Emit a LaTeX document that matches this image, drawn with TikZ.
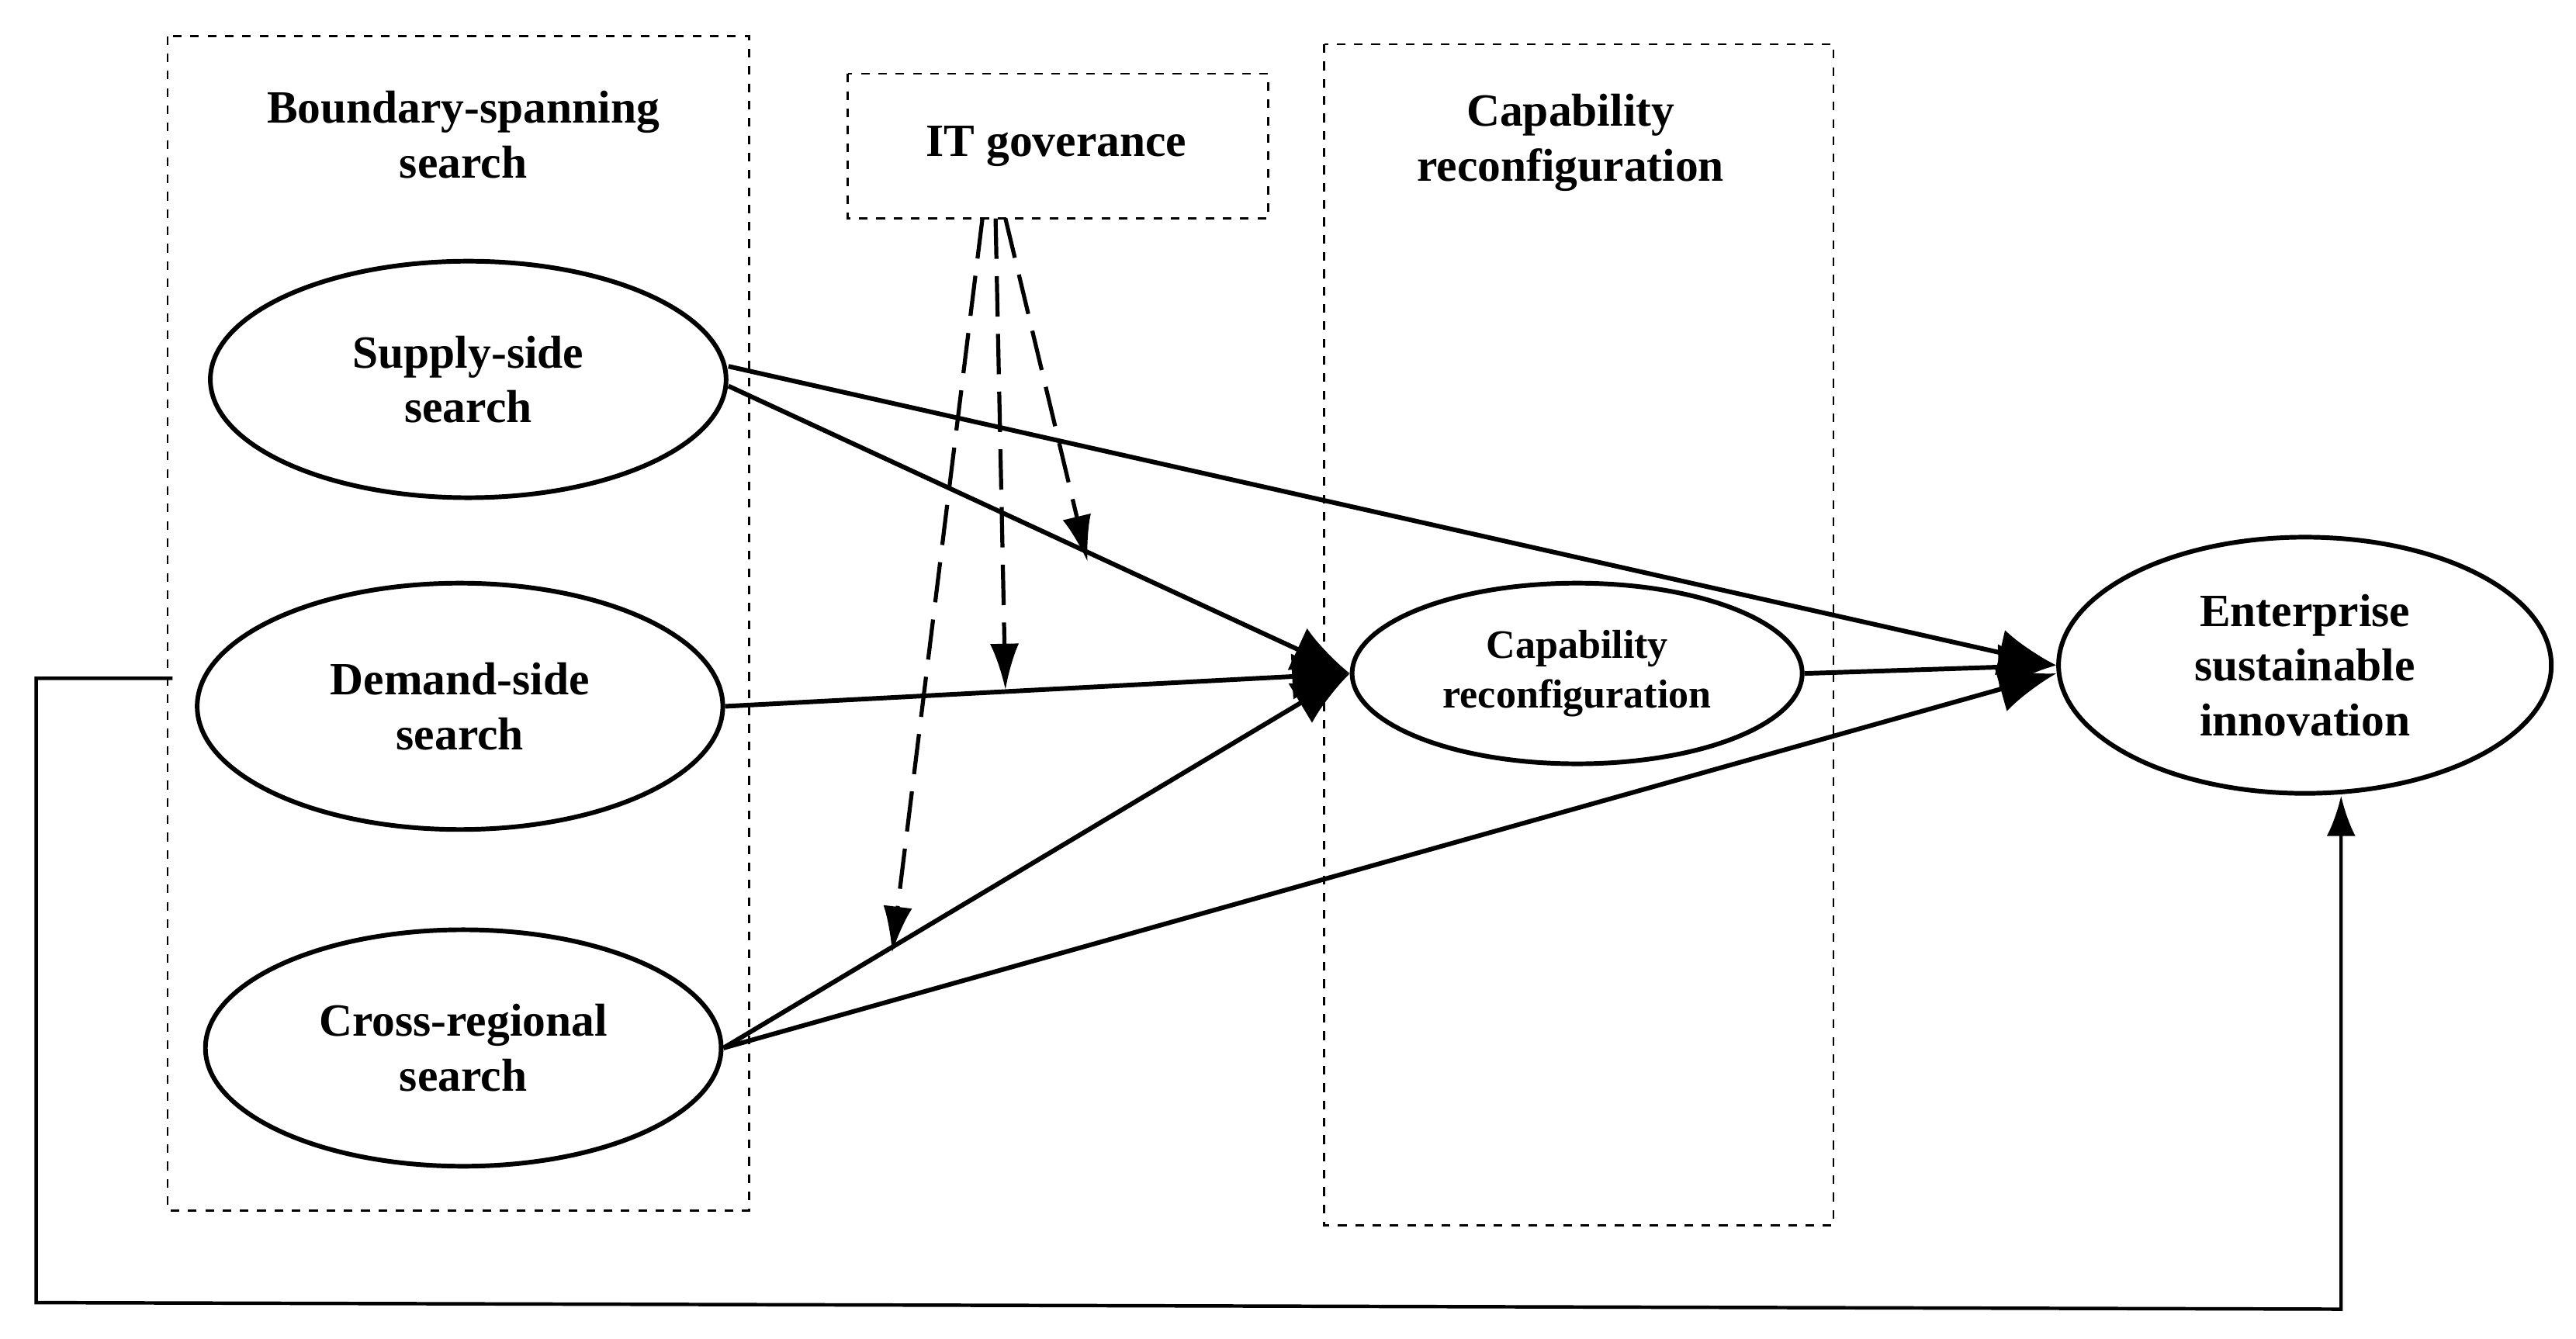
\documentclass[tikz,border=0pt]{standalone}
\usepackage{fontspec}
\setmainfont{Liberation Serif}
\usetikzlibrary{arrows.meta,shapes.geometric}
\begin{document}
\begin{tikzpicture}[x=0.02cm,y=-0.02cm,
 lbl/.style={font=\bfseries\fontsize{16}{19}\selectfont,align=center},
 ell/.style={draw,line width=1.6pt,ellipse,inner sep=0pt},
 dbox/.style={draw,dashed,line width=0.6pt},
 arr/.style={line width=1.6pt,-{Latex[length=20pt,width=16pt]}},
 darr/.style={line width=1.4pt,dash pattern=on 14pt off 6pt,-{Latex[length=16pt,width=10pt]}}]
\useasboundingbox (0,0) rectangle (1568,815);
\draw[dbox] (102,22) rectangle (456,737);
\draw[dbox] (516,45) rectangle (772,133);
\draw[dbox] (806,27) rectangle (1116,746);
\node[lbl] (t1) at (282,82) {Boundary-spanning\\search};
\node[lbl] (t2) at (643,89) {IT goverance};
\node[lbl] (t3) at (956,87) {Capability\\reconfiguration};
\node[ell,minimum width=314\pgflinewidth*0+6.28cm,minimum height=2.88cm,lbl] (s) at (285,231) {Supply-side\\search};
\node[ell,minimum width=6.4cm,minimum height=3cm,lbl] (d) at (280,430) {Demand-side\\search};
\node[ell,minimum width=6.28cm,minimum height=2.88cm,lbl] (c) at (282,638) {Cross-regional\\search};
\node[ell,minimum width=5.48cm,minimum height=2.2cm,font=\bfseries\fontsize{14}{17}\selectfont,align=center] (k) at (960,410) {Capability\\reconfiguration};
\node[ell,minimum width=6cm,minimum height=3.12cm,lbl] (e) at (1403,405) {Enterprise\\sustainable\\innovation};
\coordinate (it1) at (598,133);
\coordinate (it2) at (606,133);
\coordinate (it3) at (612,133);
\draw[arr] (s.east) ++(0,-8) -- (e.west);
\draw[arr] (s.east) ++(0,4) -- (k.west);
\draw[arr] (d.east) -- (k.west);
\draw[arr] (c.east) -- (k.west);
\draw[arr] (c.east) -- ([yshift=-0.1cm]e.west);
\draw[arr] (k.east) -- (e.west);
\draw[darr] (it3) -- (662,342);
\draw[darr] (it2) -- (612,420);
\draw[darr] (it1) -- (543,580);
\coordinate (f0) at (105,413);
\coordinate (f1) at (22,413);
\coordinate (f2) at (22,793);
\coordinate (f3) at (1425,797);
\draw[line width=1.2pt,-{Latex[length=14pt,width=10pt]}] (f0) -- (f1) -- (f2) -- (f3) -- (e.south -| f3);
\end{tikzpicture}
\end{document}
